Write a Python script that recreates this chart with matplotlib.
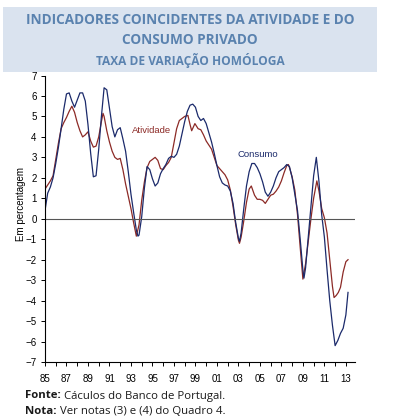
import matplotlib
matplotlib.use('Agg')
import matplotlib.pyplot as plt
from matplotlib.patches import Rectangle

# values: years since 1985 (x) and % yoy (y)
cons_t = [0.0, 0.25, 0.5, 0.75, 1.0, 1.25, 1.5, 1.75, 2.0, 2.25, 2.5, 2.75, 3.0, 3.25,
          3.5, 3.75, 4.0, 4.25, 4.5, 4.75, 5.0, 5.25, 5.5, 5.75, 6.0, 6.25, 6.5, 6.75,
          7.0, 7.25, 7.5, 7.75, 8.0, 8.25, 8.5, 8.65, 8.75, 9.0, 9.25, 9.5, 9.75, 10.0,
          10.25, 10.5, 10.75, 11.0, 11.25, 11.5, 11.75, 12.0, 12.25, 12.5, 12.75, 13.0,
          13.25, 13.5, 13.75, 14.0, 14.25, 14.5, 14.75, 15.0, 15.25, 15.5, 15.75, 16.0,
          16.25, 16.5, 16.75, 17.0, 17.25, 17.5, 17.75, 18.0, 18.1, 18.25, 18.5, 18.75,
          19.0, 19.25, 19.5, 19.75, 20.0, 20.25, 20.5, 20.75, 21.0, 21.25, 21.5, 21.75,
          22.0, 22.25, 22.5, 22.75, 23.0, 23.25, 23.5, 23.75, 24.0, 24.1, 24.25, 24.5,
          24.75, 25.0, 25.25, 25.5, 25.75, 26.0, 26.25, 26.5, 26.75, 27.0, 27.25, 27.5,
          27.75, 28.0, 28.2]
consumo = [0.4, 1.25, 1.55, 2.0, 2.7, 3.5, 4.4, 5.35, 6.1, 6.15, 5.75, 5.45, 5.8, 6.15,
           6.15, 5.75, 4.6, 3.2, 2.05, 2.1, 3.4, 5.0, 6.4, 6.3, 5.4, 4.5, 4.0, 4.35,
           4.45, 3.9, 3.3, 2.3, 1.2, 0.3, -0.55, -0.85, -0.8, 0.1, 1.5, 2.55, 2.4, 1.95,
           1.6, 1.75, 2.2, 2.45, 2.65, 2.95, 3.05, 3.0, 3.15, 3.55, 4.15, 4.75,
           5.25, 5.55, 5.6, 5.45, 5.0, 4.8, 4.9, 4.65, 4.2, 3.75, 3.2, 2.6,
           2.05, 1.75, 1.65, 1.6, 1.35, 0.75, -0.2, -0.95, -1.1, -0.7, 0.5, 1.6,
           2.3, 2.7, 2.7, 2.5, 2.2, 1.8, 1.3, 1.1, 1.3, 1.6, 2.0, 2.3,
           2.4, 2.5, 2.65, 2.55, 2.0, 1.2, 0.4, -1.0, -2.5, -2.9, -2.4, -0.9,
           0.6, 2.1, 3.0, 1.8, 0.2, -0.9, -2.5, -4.0, -5.2, -6.2, -5.95, -5.6,
           -5.35, -4.7, -3.6]

ativ_t = [0.0, 0.25, 0.5, 0.75, 1.0, 1.25, 1.5, 1.75, 2.0, 2.25, 2.5, 2.75, 3.0, 3.25,
          3.5, 3.75, 4.0, 4.25, 4.5, 4.75, 5.0, 5.25, 5.4, 5.5, 5.75, 6.0, 6.25, 6.5,
          6.75, 7.0, 7.25, 7.5, 7.75, 8.0, 8.25, 8.5, 8.75, 9.0, 9.25, 9.5, 9.75, 10.0,
          10.25, 10.5, 10.75, 11.0, 11.25, 11.5, 11.75, 12.0, 12.25, 12.5, 12.75, 13.0,
          13.3, 13.5, 13.65, 13.95, 14.25, 14.5, 14.75, 15.0, 15.25, 15.5, 15.75, 16.0,
          16.25, 16.5, 16.75, 17.0, 17.25, 17.5, 17.75, 18.0, 18.1, 18.25, 18.5, 18.75,
          19.0, 19.2, 19.5, 19.75, 20.0, 20.25, 20.5, 20.75, 21.0, 21.25, 21.5, 21.75,
          22.0, 22.25, 22.5, 22.65, 22.75, 23.0, 23.25, 23.5, 23.75, 24.0, 24.25, 24.5,
          24.75, 25.0, 25.3, 25.5, 25.75, 26.0, 26.25, 26.5, 26.75, 26.9, 27.1, 27.3,
          27.5, 27.75, 28.0, 28.2]
atividade = [1.45, 1.65, 1.85, 2.1, 2.9, 3.7, 4.4, 4.7, 4.95, 5.25, 5.5, 5.2, 4.7, 4.3,
             4.0, 4.1, 4.25, 3.8, 3.5, 3.55, 4.0, 4.75, 5.15, 5.0, 4.3, 3.75, 3.3, 3.0,
             2.9, 2.95, 2.4, 1.7, 1.1, 0.5, -0.2, -0.85, -0.3, 0.9, 1.8, 2.5, 2.8, 2.9,
             3.0, 2.85, 2.45, 2.4, 2.6, 2.75, 3.0, 3.7, 4.4, 4.8, 4.9, 5.0,
             5.05, 4.6, 4.3, 4.65, 4.4, 4.35, 4.1, 3.8, 3.6, 3.4, 3.0, 2.6,
             2.45, 2.3, 2.15, 1.9, 1.4, 0.6, -0.3, -1.05, -1.2, -0.9, -0.1, 0.8,
             1.45, 1.6, 1.15, 0.95, 0.95, 0.9, 0.75, 0.95, 1.15, 1.2, 1.35, 1.55,
             1.85, 2.25, 2.6, 2.65, 2.5, 2.05, 1.4, 0.2, -1.4, -2.95, -2.2, -1.1,
             0.0, 1.0, 1.85, 1.35, 0.5, 0.05, -0.7, -2.0, -3.3, -3.85, -3.75, -3.6,
             -3.35, -2.6, -2.1, -2.0]

tick_t = list(range(0, 29))
tick_labels = ['85', '', '87', '', '89', '', '91', '', '93', '', '95', '', '97', '',
               '99', '', '01', '', '03', '', '05', '', '07', '', '09', '', '11', '', '13']
y_ticks = list(range(-7, 8))

navy = '#1b2a6b'
brick = '#8c2a26'
title_blue = '#5a82af'
ink = '#1a1a1a'

fig = plt.figure(figsize=(3.94, 4.2), dpi=100)
fig.patch.set_facecolor('white')

# title band
fig.patches.append(Rectangle((3 / 394, 1 - 72 / 420), 374 / 394, 65 / 420,
                             transform=fig.transFigure, facecolor='#dae3ef',
                             edgecolor='none', zorder=0))
fig.text(190 / 394, 1 - 20 / 420, 'INDICADORES COINCIDENTES DA ATIVIDADE E DO',
         ha='center', va='center', fontsize=9.8, fontweight='bold',
         color=title_blue, family='Open Sans')
fig.text(190 / 394, 1 - 40 / 420, 'CONSUMO PRIVADO', ha='center', va='center',
         fontsize=9.8, fontweight='bold', color=title_blue, family='Open Sans')
fig.text(190 / 394, 1 - 60 / 420, 'TAXA DE VARIAÇÃO HOMÓLOGA', ha='center',
         va='center', fontsize=8.6, fontweight='bold', color=title_blue,
         family='Open Sans')

ax = fig.add_axes([45 / 394, 1 - 362 / 420, 310 / 394, 286.5 / 420])
ax.plot(ativ_t, atividade, color=brick, lw=0.9)
ax.plot(cons_t, consumo, color=navy, lw=0.9)
ax.axhline(0, color='#555555', lw=0.8)

ax.set_xlim(0, 28.85)
ax.set_ylim(-7, 7)
ax.set_xticks(tick_t)
ax.set_xticklabels(tick_labels)
ax.set_yticks(y_ticks)
ax.tick_params(labelsize=7, length=3, width=0.7, color='black', pad=6)
ax.tick_params(axis='y', pad=3)
for lbl in ax.get_xticklabels() + ax.get_yticklabels():
    lbl.set_family('Liberation Sans')
for s in ['top', 'right']:
    ax.spines[s].set_visible(False)
ax.spines['left'].set_linewidth(0.8)
ax.spines['bottom'].set_linewidth(0.8)
ax.set_facecolor('none')

ax.set_ylabel('Em percentagem', fontsize=7, family='Liberation Sans')
ax.yaxis.set_label_coords(-0.062, 0.55)

ax.text(8.1, 4.3, 'Atividade', color=brick, fontsize=6.8,
        family='Liberation Sans', va='center')
ax.text(17.9, 3.15, 'Consumo', color=navy, fontsize=6.8,
        family='Liberation Sans', va='center')

# footnotes: bold prefix followed by regular text
renderer = fig.canvas.get_renderer()
for ypx, head, body in [(396, 'Fonte:', ' Cáculos do Banco de Portugal.'),
                        (411, 'Nota:', ' Ver notas (3) e (4) do Quadro 4.')]:
    h = fig.text(25 / 394, 1 - ypx / 420, head, fontsize=8.2, va='center',
                 fontweight='bold', family='Open Sans', color=ink)
    w = h.get_window_extent(renderer).width
    fig.text((25 + w) / 394, 1 - ypx / 420, body, fontsize=8.2, va='center',
             family='Open Sans', color=ink)

fig.savefig('out.png', dpi=100)
